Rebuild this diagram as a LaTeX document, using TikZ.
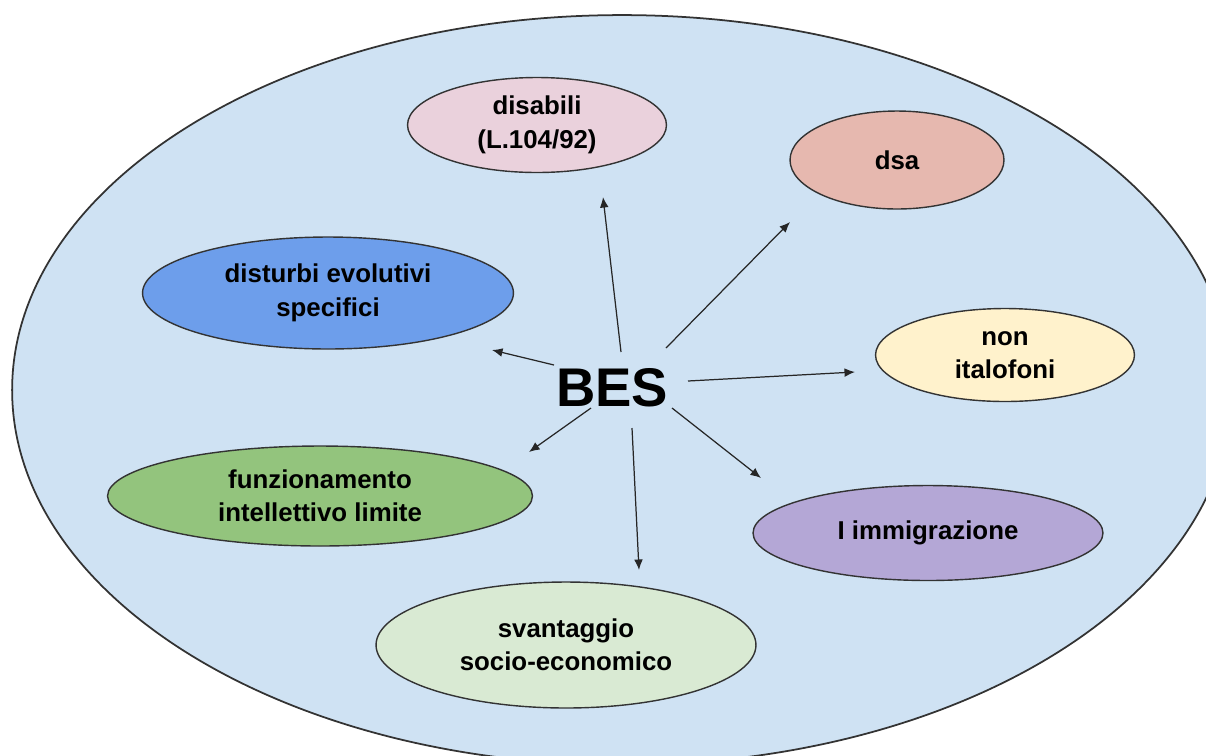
\documentclass[tikz,border=0pt]{standalone}
\usepackage{fontspec}
\setmainfont{Liberation Sans}
\usetikzlibrary{shapes.geometric,arrows.meta}

\definecolor{besblue}{HTML}{CFE2F3}
\definecolor{dispink}{HTML}{EAD1DC}
\definecolor{dsared}{HTML}{E6B8AF}
\definecolor{devblue}{HTML}{6D9EEB}
\definecolor{nonyellow}{HTML}{FFF2CC}
\definecolor{fungreen}{HTML}{93C47D}
\definecolor{immpurple}{HTML}{B4A7D6}
\definecolor{svagreen}{HTML}{D9EAD3}

\tikzset{bubble/.style={ellipse,draw=black!80,line width=0.8pt,inner sep=0pt,align=center,font=\bfseries\fontsize{14.7}{19}\selectfont}}
\tikzset{barrow/.style={-{Latex[length=6pt,width=5pt]},line width=0.7pt,black!85}}

\begin{document}
\begin{tikzpicture}[x=0.02cm,y=-0.02cm]
        % fix the canvas
        \useasboundingbox (0,0) rectangle (1206,755);
        \clip (0,0) rectangle (1206,755);
        % draw the big ellipse
        \node[ellipse,draw=black!80,line width=1pt,fill=besblue,minimum width=24.4cm,minimum height=15cm,inner sep=0pt] (outer) at (622,390) {};
        % draw the categories
        \node[bubble,fill=dispink,minimum width=5.18cm,minimum height=1.9cm] (dis) at (537,125) {disabili\\(L.104/92)};
        \node[bubble,fill=dsared,minimum width=4.28cm,minimum height=1.96cm] (dsa) at (897,160) {dsa};
        \node[bubble,fill=devblue,minimum width=7.42cm,minimum height=2.24cm] (dev) at (328,293) {disturbi evolutivi\\specifici};
        \node[bubble,fill=nonyellow,minimum width=5.18cm,minimum height=1.86cm] (non) at (1005,355) {non\\italofoni};
        \node[bubble,fill=fungreen,minimum width=8.5cm,minimum height=2cm] (fun) at (320,496) {funzionamento\\intellettivo limite};
        \node[bubble,fill=immpurple,minimum width=7cm,minimum height=1.9cm] (imm) at (928,533) {I immigrazione};
        \node[bubble,fill=svagreen,minimum width=7.6cm,minimum height=2.52cm] (sva) at (566,645) {svantaggio\\socio-economico};
        % the centre
        \node[font=\bfseries\fontsize{31}{36}\selectfont,inner sep=0pt] (BES) at (612,388) {BES};
        % arrow starts, round the centre
        \coordinate (sDis) at ([shift={(9,-36)}]BES.center);
        \coordinate (sDsa) at ([shift={(54,-40)}]BES.center);
        \coordinate (sDev) at ([shift={(-58,-23)}]BES.center);
        \coordinate (sNon) at ([shift={(76,-7)}]BES.center);
        \coordinate (sFun) at ([shift={(-21,20)}]BES.center);
        \coordinate (sSva) at ([shift={(20,40)}]BES.center);
        \coordinate (sImm) at ([shift={(60,20)}]BES.center);
        % arrow ends
        \coordinate (tDis) at (603,197);
        \coordinate (tDsa) at (790,222);
        \coordinate (tDev) at (492,350);
        \coordinate (tNon) at (855,372);
        \coordinate (tFun) at (529,452);
        \coordinate (tSva) at (639,570);
        \coordinate (tImm) at (761,478);
        % draw the arrows
        \draw[barrow] (sDis) -- (tDis);
        \draw[barrow] (sDsa) -- (tDsa);
        \draw[barrow] (sDev) -- (tDev);
        \draw[barrow] (sNon) -- (tNon);
        \draw[barrow] (sFun) -- (tFun);
        \draw[barrow] (sSva) -- (tSva);
        \draw[barrow] (sImm) -- (tImm);
\end{tikzpicture}
\end{document}
